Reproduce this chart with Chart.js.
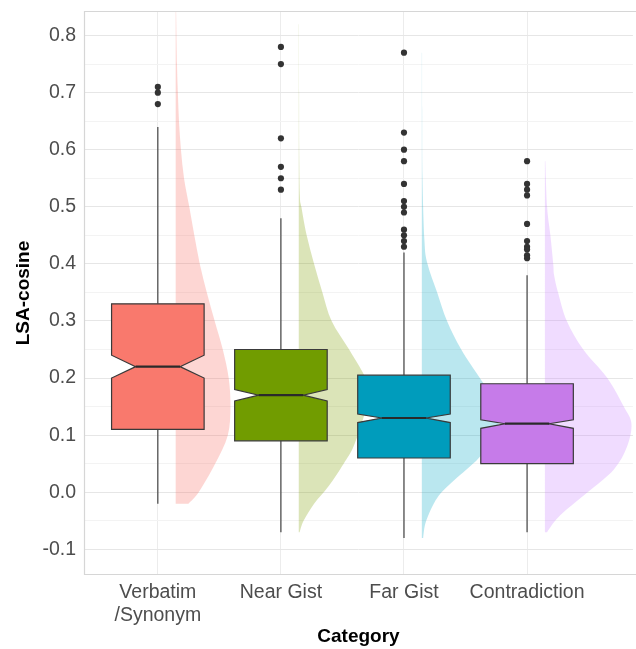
<!DOCTYPE html>
<html>
<head>
<meta charset="utf-8">
<script src="https://cdn.jsdelivr.net/npm/chart.js@4.4.1/dist/chart.umd.min.js"></script>
<style>
  html, body { margin: 0; padding: 0; background: #ffffff; }
  #wrap { width: 636px; height: 649px; }
</style>
</head>
<body>
<div id="wrap"><canvas id="chart" width="636" height="649"></canvas></div>
<script>
// ---- data ----------------------------------------------------------------
const categories = [['Verbatim', '/Synonym'], ['Near Gist'], ['Far Gist'], ['Contradiction']];

const whiskerLow  = [-0.02, -0.07, -0.08, -0.07];
const quartile1   = [0.11, 0.09, 0.06, 0.05];
const notchLow    = [0.20, 0.16, 0.122, 0.112];
const medians     = [0.22, 0.17, 0.13, 0.12];
const notchHigh   = [0.24, 0.18, 0.137, 0.127];
const quartile3   = [0.33, 0.25, 0.205, 0.19];
const whiskerHigh = [0.64, 0.48, 0.42, 0.38];

const outliersVerbatim      = [0.71, 0.70, 0.68];
const outliersNearGist      = [0.78, 0.75, 0.62, 0.57, 0.55, 0.53];
const outliersFarGist       = [0.77, 0.63, 0.60, 0.58, 0.54, 0.51, 0.50, 0.49, 0.46, 0.45, 0.44, 0.43];
const outliersContradiction = [0.58, 0.54, 0.53, 0.52, 0.47, 0.44, 0.43, 0.425, 0.415, 0.41];

// kernel density estimates: [LSA-cosine, density]
const densityVerbatim = [[0.843,0.02],[0.75,0.06],[0.70,0.1],[0.65,0.15],[0.60,0.24],[0.55,0.38],[0.50,0.62],[0.45,0.85],[0.40,1.1],[0.35,1.42],[0.30,1.78],[0.25,2.15],[0.20,2.42],[0.15,2.5],[0.10,2.38],[0.05,1.8],[0.00,1.05],[-0.02,0.58]];
const densityNearGist = [[0.82,0.01],[0.70,0.015],[0.60,0.02],[0.52,0.05],[0.50,0.12],[0.45,0.36],[0.40,0.7],[0.35,1.08],[0.30,1.5],[0.25,2.3],[0.20,3.05],[0.17,3.18],[0.13,2.95],[0.08,2.5],[0.05,2.05],[0.01,1.35],[-0.02,0.7],[-0.05,0.22],[-0.07,0.04]];
const densityFarGist = [[0.77,0.01],[0.67,0.015],[0.55,0.03],[0.44,0.12],[0.40,0.26],[0.35,0.7],[0.30,1.15],[0.25,1.8],[0.20,2.65],[0.17,3.15],[0.13,3.5],[0.10,3.32],[0.06,2.6],[0.02,1.45],[-0.01,0.7],[-0.05,0.2],[-0.08,0.06]];
const densityContradiction = [[0.58,0.02],[0.50,0.1],[0.45,0.25],[0.40,0.38],[0.38,0.42],[0.35,0.6],[0.30,1.0],[0.25,1.75],[0.20,2.85],[0.15,3.6],[0.12,3.95],[0.08,3.75],[0.04,3.15],[0.00,1.95],[-0.03,1.0],[-0.05,0.47],[-0.07,0.1]];

const yTicks = [-0.1, 0.0, 0.1, 0.2, 0.3, 0.4, 0.5, 0.6, 0.7, 0.8];

// ---- styling -------------------------------------------------------------
const boxColors    = ['#f9796d', '#719c00', '#009cbc', '#c67be9'];
const violinColors = ['rgba(248,118,109,0.3)', 'rgba(124,158,0,0.28)', 'rgba(0,165,195,0.27)', 'rgba(199,124,255,0.27)'];
const outlierSets  = [outliersVerbatim, outliersNearGist, outliersFarGist, outliersContradiction];
const densitySets  = [densityVerbatim, densityNearGist, densityFarGist, densityContradiction];

const BOX_HALF = 0.376;       // half box width, in category units
const NOTCH_RATIO = 0.52;     // notch inset relative to box half width
const VIOLIN_OFFSET = 0.145;  // gap between category centre and violin base
const VIOLIN_SCALE = 0.178;   // category units per unit of density

const outlierPoints = [];
outlierSets.forEach((set, i) => set.forEach(v => outlierPoints.push({ x: i + 1, y: v })));

// Catmull-Rom through pixel points, as bezier segments
function smoothPath(ctx, pts) {
  ctx.lineTo(pts[0][0], pts[0][1]);
  for (let i = 0; i < pts.length - 1; i++) {
    const p0 = pts[Math.max(i - 1, 0)], p1 = pts[i], p2 = pts[i + 1], p3 = pts[Math.min(i + 2, pts.length - 1)];
    const c1x = p1[0] + (p2[0] - p0[0]) / 6, c1y = p1[1] + (p2[1] - p0[1]) / 6;
    const c2x = p2[0] - (p3[0] - p1[0]) / 6, c2y = p2[1] - (p3[1] - p1[1]) / 6;
    ctx.bezierCurveTo(c1x, c1y, c2x, c2y, p2[0], p2[1]);
  }
}

const raincloud = {
  id: 'raincloud',
  beforeDatasetsDraw(chart) {
    const { ctx, chartArea: a, scales: { x, y } } = chart;
    ctx.save();
    ctx.beginPath();
    ctx.rect(a.left, a.top, chart.width - a.left, a.bottom - a.top);
    ctx.clip();

    // half violins
    densitySets.forEach((dens, i) => {
      const base = x.getPixelForValue(i + 1 + VIOLIN_OFFSET);
      const pts = dens.map(([v, d]) => [x.getPixelForValue(i + 1 + VIOLIN_OFFSET + d * VIOLIN_SCALE), y.getPixelForValue(v)]);
      ctx.beginPath();
      ctx.moveTo(base, pts[0][1]);
      smoothPath(ctx, pts);
      ctx.lineTo(base, pts[pts.length - 1][1]);
      ctx.closePath();
      ctx.fillStyle = violinColors[i];
      ctx.fill();
    });

    // notched boxes with whiskers
    categories.forEach((c, i) => {
      const cx = x.getPixelForValue(i + 1);
      const L = x.getPixelForValue(i + 1 - BOX_HALF);
      const R = x.getPixelForValue(i + 1 + BOX_HALF);
      const Li = x.getPixelForValue(i + 1 - BOX_HALF * (1 - NOTCH_RATIO));
      const Ri = x.getPixelForValue(i + 1 + BOX_HALF * (1 - NOTCH_RATIO));
      const yQ1 = y.getPixelForValue(quartile1[i]);
      const yQ3 = y.getPixelForValue(quartile3[i]);
      const yMed = y.getPixelForValue(medians[i]);
      const yNl = y.getPixelForValue(notchLow[i]);
      const yNh = y.getPixelForValue(notchHigh[i]);

      ctx.strokeStyle = '#333333';
      ctx.lineWidth = 1.1;
      ctx.beginPath();
      ctx.moveTo(cx, yQ3); ctx.lineTo(cx, y.getPixelForValue(whiskerHigh[i]));
      ctx.moveTo(cx, yQ1); ctx.lineTo(cx, y.getPixelForValue(whiskerLow[i]));
      ctx.stroke();

      ctx.beginPath();
      ctx.moveTo(L, yQ3); ctx.lineTo(R, yQ3); ctx.lineTo(R, yNh); ctx.lineTo(Ri, yMed);
      ctx.lineTo(R, yNl); ctx.lineTo(R, yQ1); ctx.lineTo(L, yQ1); ctx.lineTo(L, yNl);
      ctx.lineTo(Li, yMed); ctx.lineTo(L, yNh); ctx.closePath();
      ctx.fillStyle = boxColors[i];
      ctx.fill();
      ctx.lineWidth = 1.2;
      ctx.strokeStyle = '#3a3a3a';
      ctx.stroke();

      ctx.beginPath();
      ctx.moveTo(Li, yMed); ctx.lineTo(Ri, yMed);
      ctx.lineWidth = 2.2;
      ctx.strokeStyle = '#2a2a2a';
      ctx.stroke();
    });
    ctx.restore();
  },
  afterDraw(chart) {
    // panel frame: top, left and bottom edges (the panel runs past the right edge)
    const { ctx, chartArea: a } = chart;
    ctx.save();
    ctx.strokeStyle = '#d6d6d6';
    ctx.lineWidth = 1.2;
    ctx.beginPath();
    ctx.moveTo(chart.width, a.top + 0.5);
    ctx.lineTo(a.left + 0.5, a.top + 0.5);
    ctx.lineTo(a.left + 0.5, a.bottom - 0.5);
    ctx.lineTo(chart.width, a.bottom - 0.5);
    ctx.stroke();
    ctx.restore();
  }
};

new Chart(document.getElementById('chart'), {
  type: 'scatter',
  data: {
    datasets: [{
      data: outlierPoints,
      pointRadius: 3.1,
      pointHoverRadius: 3.1,
      pointBackgroundColor: '#333333',
      pointBorderWidth: 0,
      showLine: false
    }]
  },
  plugins: [raincloud],
  options: {
    responsive: false,
    animation: false,
    events: [],
    layout: { padding: { left: 0, right: 0, top: 11, bottom: 0 } },
    plugins: { legend: { display: false }, tooltip: { enabled: false } },
    scales: {
      x: {
        type: 'linear',
        min: 0.4,
        max: 4.86,
        afterFit(s) { s.height = 74; s.paddingLeft = 0; s.paddingRight = 0; },
        afterBuildTicks(s) { s.ticks = categories.map((c, i) => ({ value: i + 1 })); },
        ticks: {
          autoSkip: false,
          maxRotation: 0,
          color: '#4d4d4d',
          padding: 6,
          font: { family: '"Liberation Sans", Arial, sans-serif', size: 19.5 },
          callback: (v) => categories[Math.round(v) - 1]
        },
        grid: { color: '#ececec', lineWidth: 1, drawTicks: false },
        border: { display: false },
        title: {
          display: true,
          text: 'Category',
          color: '#000000',
          padding: { top: 0, bottom: 1 },
          font: { family: '"Liberation Sans", Arial, sans-serif', size: 19, weight: 'bold' }
        }
      },
      y: {
        type: 'linear',
        min: -0.145,
        max: 0.843,
        afterFit(s) { s.width = 84; s.paddingTop = 0; s.paddingBottom = 0; },
        afterBuildTicks(s) {
          const t = [];
          yTicks.forEach(v => { t.push({ value: v }); if (v < 0.8) t.push({ value: +(v + 0.05).toFixed(2), minor: true }); });
          s.ticks = t;
        },
        ticks: {
          autoSkip: false,
          color: '#4d4d4d',
          padding: 8,
          font: { family: '"Liberation Sans", Arial, sans-serif', size: 19.5 },
          callback: (v) => yTicks.some(t => Math.abs(t - v) < 1e-9) ? v.toFixed(1) : ''
        },
        grid: {
          drawTicks: false,
          lineWidth: 1,
          color: (c) => (c.tick && yTicks.some(t => Math.abs(t - c.tick.value) < 1e-9)) ? '#e6e6e6' : '#f3f3f3'
        },
        border: { display: false },
        title: {
          display: true,
          text: 'LSA-cosine',
          color: '#000000',
          padding: { top: 12, bottom: 0 },
          font: { family: '"Liberation Sans", Arial, sans-serif', size: 19, weight: 'bold' }
        }
      }
    }
  }
});
</script>
</body>
</html>
